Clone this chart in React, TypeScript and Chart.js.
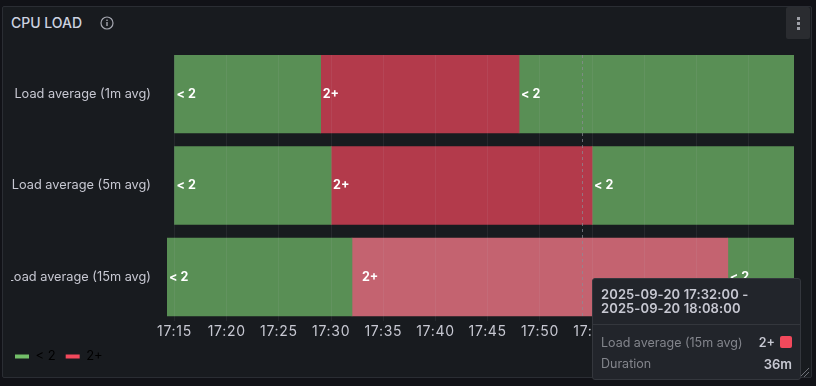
import React, { useEffect, useRef } from "react";
import { Chart, registerables } from "chart.js";

Chart.register(...registerables);

const categories = ["Load average (1m avg)", "Load average (5m avg)", "Load average (15m avg)"];
// minutes after 17:00
const firstLow = [[15, 29], [15, 30], [14.28, 32]];
const high = [[29, 48], [30, 55], [32, 68]];
const secondLow = [[48, 74.34], [55, 74.34], [68, 74.34]];
const xTicks = [15, 20, 25, 30, 35, 40, 45, 50, 55, 60, 65, 70];
const xMin = 14.28;
const xMax = 74.34;
const hoverMinute = 54;
const lowLabel = "< 2";
const highLabel = "2+";

const FONT = "Inter, 'Open Sans', sans-serif";
const TEXT = "#c7c8d2";
const GREEN = "rgb(89,143,85)";
const RED = "rgb(179,58,75)";
const RED_HI = "rgb(196,99,112)";

const fmt = (m: number) => {
  const h = 17 + Math.floor(m / 60);
  const mm = Math.round(m % 60);
  return `${h}:${String(mm).padStart(2, "0")}`;
};

const toPts = (a: number[][]) => a.map((r, i) => ({ x: r, y: i }));

const extras = {
  id: "extras",
  afterDatasetsDraw(chart: any) {
    const { ctx } = chart;
    ctx.save();
    ctx.font = `bold 12.5px ${FONT}`;
    ctx.fillStyle = "#ffffff";
    ctx.textBaseline = "middle";
    chart.data.datasets.forEach((ds: any, di: number) => {
      const meta = chart.getDatasetMeta(di);
      meta.data.forEach((el: any, i: number) => {
        const left = Math.min(el.x, el.base);
        const hovered = di === 1 && i === 2;
        ctx.fillText(ds.label.startsWith("<") ? lowLabel : highLabel, left + (hovered ? 10 : 2), el.y);
      });
    });
    const x = chart.scales.x.getPixelForValue(hoverMinute);
    ctx.strokeStyle = "rgba(140,140,150,0.7)";
    ctx.lineWidth = 1;
    ctx.setLineDash([3, 3]);
    ctx.beginPath();
    ctx.moveTo(Math.round(x) + 0.5, 55);
    ctx.lineTo(Math.round(x) + 0.5, 316);
    ctx.stroke();
    ctx.restore();
  },
};

export default function App() {
  const ref = useRef<HTMLCanvasElement>(null);
  useEffect(() => {
    const chart = new Chart(ref.current!, {
      type: "bar",
      plugins: [extras],
      data: {
        datasets: [
          { label: lowLabel, data: toPts(firstLow) as any, backgroundColor: GREEN },
          { label: highLabel, data: toPts(high) as any, backgroundColor: [RED, RED, RED_HI] },
          { label: lowLabel + " ", data: toPts(secondLow) as any, backgroundColor: GREEN },
        ],
      },
      options: {
        animation: false,
        responsive: false,
        indexAxis: "y",
        datasets: { bar: { grouped: false, barThickness: 78, borderWidth: 0, borderSkipped: false } } as any,
        layout: { padding: { top: 55, right: 22, bottom: 13, left: 0 } },
        plugins: {
          tooltip: { enabled: false },
          legend: {
            position: "bottom",
            align: "start",
            labels: {
              boxWidth: 14,
              boxHeight: 4,
              useBorderRadius: true,
              borderRadius: 2,
              color: TEXT,
              padding: 10,
              font: { family: FONT, size: 13 },
              generateLabels: () => [
                { text: lowLabel, fillStyle: "#73BF69", strokeStyle: "#73BF69", lineWidth: 0, datasetIndex: 0 },
                { text: highLabel, fillStyle: "#F2495C", strokeStyle: "#F2495C", lineWidth: 0, datasetIndex: 1 },
              ],
            },
          },
        },
        scales: {
          x: {
            type: "linear",
            position: "bottom",
            min: xMin,
            max: xMax,
            grid: { color: "rgba(204,204,220,0.08)", drawTicks: false, z: 1 },
            border: { display: false },
            afterBuildTicks: (axis: any) => {
              axis.ticks = xTicks.map((value) => ({ value }));
            },
            afterFit: (axis: any) => {
              axis.height = 19;
            },
            afterUpdate: (axis: any) => {
              if (axis.__spaced) return;
              axis.__spaced = true;
              const draw = axis.drawLabels;
              axis.drawLabels = function (area: any) {
                this.ctx.letterSpacing = "0.7px";
                draw.call(this, area);
                this.ctx.letterSpacing = "0px";
              };
            },
            ticks: {
              color: TEXT,
              padding: 2,
              autoSkip: false,
              maxRotation: 0,
              font: { family: FONT, size: 14 },
              callback: (v: any) => fmt(Number(v)),
            },
          },
          y: {
            type: "linear",
            reverse: true,
            offset: false,
            min: -0.426,
            max: 2.481,
            grid: { display: false, offset: false, drawTicks: false },
            border: { display: false },
            afterBuildTicks: (axis: any) => {
              axis.ticks = categories.map((_, value) => ({ value }));
            },
            afterFit: (axis: any) => {
              axis.width = 162;
            },
            ticks: {
              color: TEXT,
              padding: 16,
              autoSkip: false,
              font: { family: FONT, size: 12.75 },
              callback: (v: any) => categories[Number(v)],
            },
          },
        },
      } as any,
    });
    return () => chart.destroy();
  }, []);

  return (
    <div style={{ position: "fixed", inset: 0, background: "#111217", overflow: "hidden", fontFamily: FONT }}>
      <div
        style={{
          position: "absolute",
          left: 2,
          top: 6,
          width: 808,
          height: 370,
          background: "#181b1f",
          border: "1px solid #2a2d33",
          borderRadius: 2,
        }}
      />
      <div style={{ position: "absolute", left: 11, top: 14, fontSize: 14, lineHeight: "18px", fontWeight: 500, color: "#cdd3e0" }}>
        CPU LOAD
      </div>
      <svg width="14" height="14" viewBox="0 0 14 14" style={{ position: "absolute", left: 100, top: 16 }}>
        <circle cx="7" cy="7" r="6" fill="none" stroke="#a5a7b0" strokeWidth="1.2" />
        <rect x="6.3" y="6" width="1.4" height="4" fill="#a5a7b0" />
        <rect x="6.3" y="3.6" width="1.4" height="1.4" fill="#a5a7b0" />
      </svg>
      <div style={{ position: "absolute", left: 786, top: 7, width: 24, height: 32, background: "#2a2c30", borderRadius: 2 }}>
        {[10, 15, 19.5].map((t) => (
          <div key={t} style={{ position: "absolute", left: 11, top: t, width: 3, height: 3, background: "#9fa1a8" }} />
        ))}
      </div>
      <svg width="12" height="12" viewBox="0 0 12 12" style={{ position: "absolute", left: 798, top: 366 }}>
        <path d="M2 11 L11 2 M6 11 L11 6" stroke="#6e7077" strokeWidth="1" />
      </svg>
      <div style={{ position: "absolute", left: 11, top: 0, width: 805, height: 386, overflow: "hidden" }}>
        <canvas ref={ref} width={811} height={386} style={{ position: "absolute", left: -6, top: 0, width: 811, height: 386 }} />
      </div>
      <div
        style={{
          position: "absolute",
          left: 592,
          top: 278,
          width: 207,
          height: 100,
          background: "#22252b",
          border: "1px solid #34373d",
          borderRadius: 3,
          color: "#c7c8d2",
          fontSize: 12,
        }}
      >
        <div style={{ position: "absolute", left: 8, top: 8, fontWeight: 600, fontSize: 13, lineHeight: "14px", letterSpacing: 0.1, whiteSpace: "nowrap" }}>
          2025-09-20 17:32:00 -<br />2025-09-20 18:08:00
        </div>
        <div style={{ position: "absolute", left: 0, right: 0, top: 45, height: 1, background: "#34373d" }} />
        <div style={{ position: "absolute", left: 8, top: 56, color: "#83858c", fontSize: 12.5, whiteSpace: "nowrap" }}>Load average (15m avg)</div>
        <div style={{ position: "absolute", right: 25, top: 56, fontWeight: 600, fontSize: 12.5 }}>2+</div>
        <div style={{ position: "absolute", right: 8, top: 57, width: 12, height: 12, background: "#F2495C", borderRadius: 2 }} />
        <div style={{ position: "absolute", left: 8, top: 77, color: "#83858c", fontSize: 12.5 }}>Duration</div>
        <div style={{ position: "absolute", right: 8, top: 77, fontWeight: 600, fontSize: 13 }}>36m</div>
      </div>
    </div>
  );
}
